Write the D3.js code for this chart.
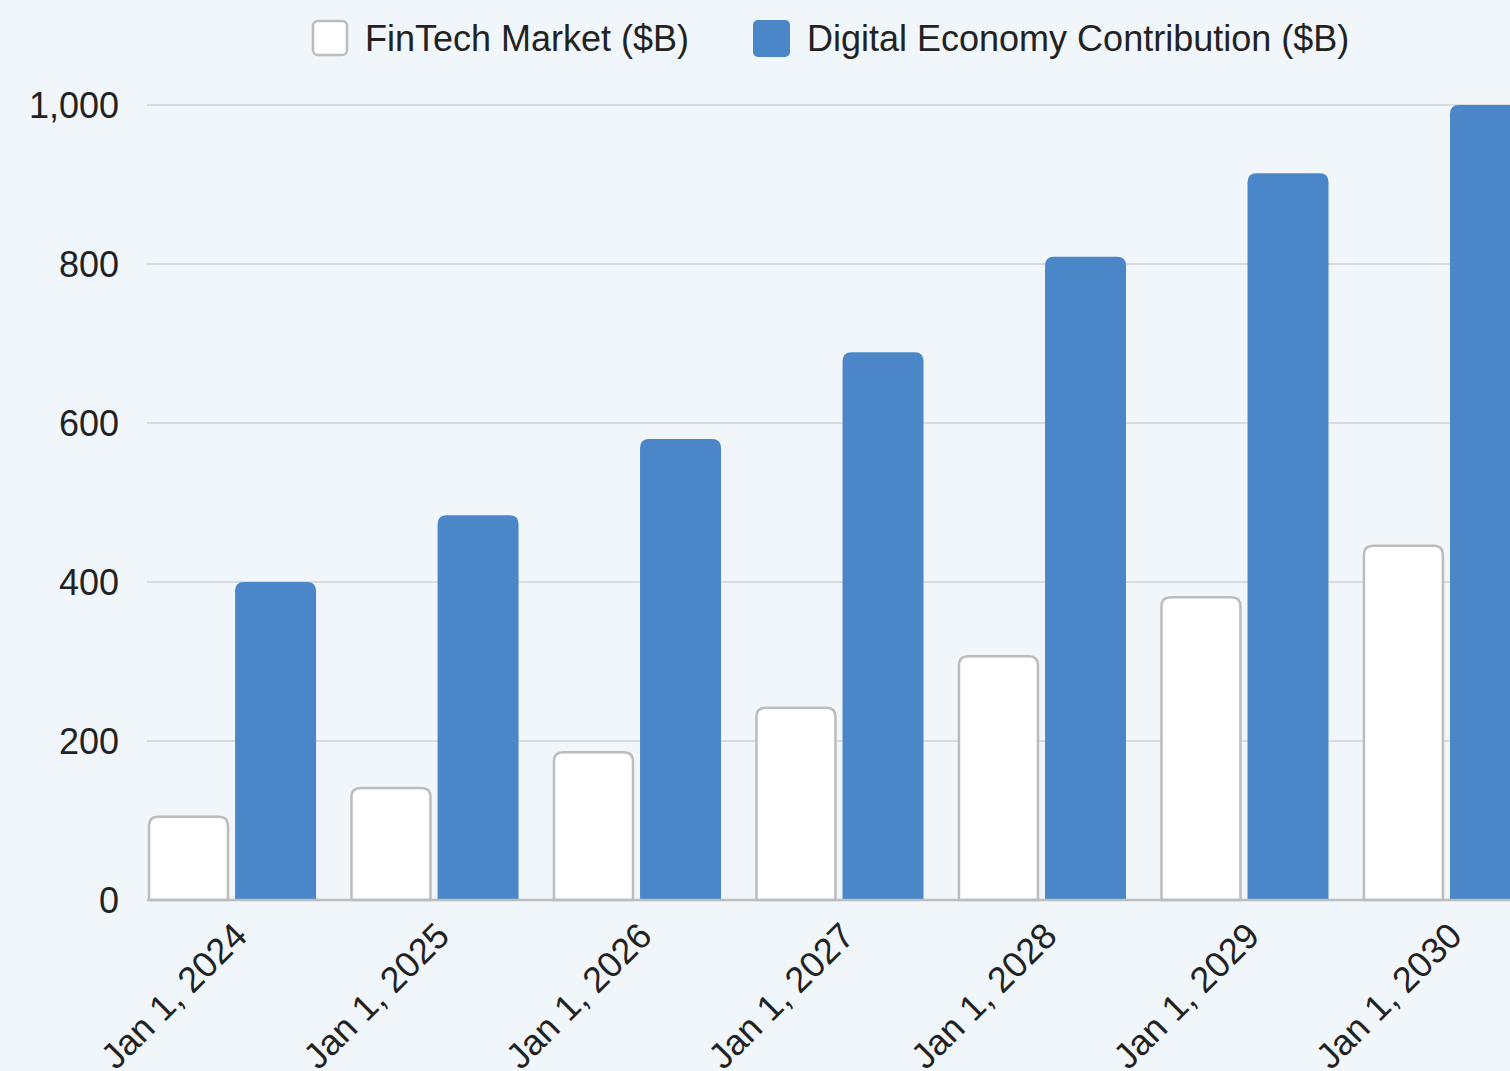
<!DOCTYPE html>
<html>
<head>
<meta charset="utf-8">
<script src="https://cdn.jsdelivr.net/npm/d3@7"></script>
<style>
  html, body { margin: 0; padding: 0; background: #f1f6fb; overflow: hidden; }
  svg text { font-family: "Liberation Sans", Arial, sans-serif; fill: #222; }
</style>
</head>
<body>
<div id="chart"></div>
<script>
var years = ["Jan 1, 2024", "Jan 1, 2025", "Jan 1, 2026", "Jan 1, 2027", "Jan 1, 2028", "Jan 1, 2029", "Jan 1, 2030"]
var seriesNames = ["FinTech Market ($B)", "Digital Economy Contribution ($B)"]
var fintech = [106, 142, 187, 243, 308, 382, 447]
var digital = [400, 484, 580, 689, 809, 914, 1000]
var yTicks = [0, 200, 400, 600, 800, 1000]

var width = 1510, height = 1071

let svg = d3.select("#chart")
    .append("svg")
    .attr("width", width)
    .attr("height", height)

svg.append("rect")
    .attr("width", width)
    .attr("height", height)
    .attr("fill", "#f1f6fb")

var y = d3.scaleLinear()
    .domain([0, 1000])
    .range([900, 105])

var x0 = d3.scaleBand()
    .domain(years)
    .range([148, 1531])
    .paddingInner(0.17)
    .paddingOuter(0)

var x1 = d3.scaleBand()
    .domain(seriesNames)
    .range([0, x0.bandwidth()])
    .paddingInner(0.07)

// grid lines
svg.append("g")
    .selectAll("line")
    .data(yTicks.filter(d => d > 0))
    .join("line")
    .attr("x1", 147)
    .attr("x2", width)
    .attr("y1", d => y(d))
    .attr("y2", d => y(d))
    .attr("stroke", "#d8dce1")
    .attr("stroke-width", 2)

// y labels
svg.append("g")
    .selectAll("text")
    .data(yTicks)
    .join("text")
    .attr("x", 119)
    .attr("y", d => y(d))
    .attr("dy", "0.35em")
    .attr("text-anchor", "end")
    .style("font-size", "36px")
    .text(d => d3.format(",")(d))

// bar with rounded top corners
function barPath(x, w, top, bottom, r) {
    r = Math.min(r, (bottom - top), w / 2)
    return "M" + x + "," + bottom +
        "V" + (top + r) +
        "Q" + x + "," + top + " " + (x + r) + "," + top +
        "H" + (x + w - r) +
        "Q" + (x + w) + "," + top + " " + (x + w) + "," + (top + r) +
        "V" + bottom + "Z"
}

var rows = years.map((yr, i) => ({ year: yr, vals: [fintech[i], digital[i]] }))

let groups = svg.append("g")
    .selectAll("g")
    .data(rows)
    .join("g")
    .attr("transform", d => "translate(" + x0(d.year) + ",0)")

groups.append("path")
    .attr("d", d => barPath(x1(seriesNames[0]) + 1, x1.bandwidth() - 2, y(d.vals[0]) + 1, y(0), 9))
    .attr("fill", "#ffffff")
    .attr("stroke", "#bcbcbc")
    .attr("stroke-width", 2.5)

groups.append("path")
    .attr("d", d => barPath(x1(seriesNames[1]), x1.bandwidth(), y(d.vals[1]), y(0), 9))
    .attr("fill", "#4a86c8")

// baseline
svg.append("line")
    .attr("x1", 147)
    .attr("x2", width)
    .attr("y1", y(0))
    .attr("y2", y(0))
    .attr("stroke", "#bdbdbd")
    .attr("stroke-width", 2.5)

// x labels
svg.append("g")
    .selectAll("text")
    .data(years)
    .join("text")
    .attr("text-anchor", "end")
    .attr("transform", d => "translate(" + (x0(d) + x0.bandwidth() / 2 + 17) + ",938) rotate(-45)")
    .style("font-size", "36px")
    .text(d => d)

// legend
let legend = svg.append("g")
legend.append("rect")
    .attr("x", 313).attr("y", 21)
    .attr("width", 34).attr("height", 34)
    .attr("rx", 5)
    .attr("fill", "#ffffff")
    .attr("stroke", "#bcbcbc")
    .attr("stroke-width", 2.5)
legend.append("text")
    .attr("x", 365).attr("y", 38)
    .attr("dy", "0.35em")
    .style("font-size", "36px")
    .text(seriesNames[0])
legend.append("rect")
    .attr("x", 753).attr("y", 20)
    .attr("width", 37).attr("height", 37)
    .attr("rx", 5)
    .attr("fill", "#4a86c8")
legend.append("text")
    .attr("x", 807).attr("y", 38)
    .attr("dy", "0.35em")
    .style("font-size", "36px")
    .text(seriesNames[1])
</script>
</body>
</html>
